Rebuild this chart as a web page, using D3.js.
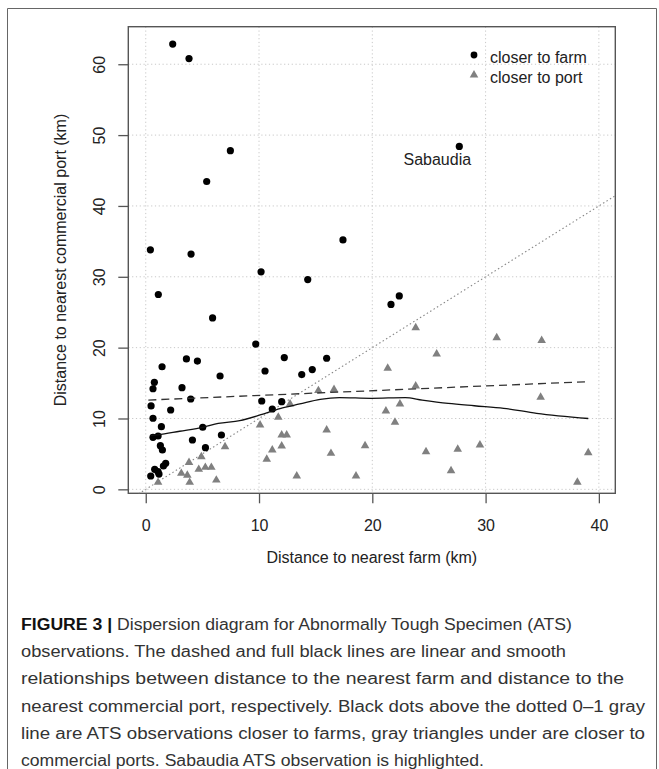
<!DOCTYPE html>
<html><head><meta charset="utf-8">
<script src="https://cdn.jsdelivr.net/npm/d3@7"></script>
<style>
html,body{margin:0;padding:0;background:#fff;}
svg{display:block;font-family:"Liberation Sans",Arial,sans-serif;}
</style></head>
<body>
<svg id="chart" width="659" height="769"></svg>
<script>
// ---- data ----
const xTicks = [0, 10, 20, 30, 40];
const yTicks = [0, 10, 20, 30, 40, 50, 60];
const farmX = [0.41,4.0,10.18,14.3,1.11,5.9,9.71,12.23,3.59,4.56,15.97,1.44,6.56,10.53,13.77,14.7,0.76,0.64,3.2,3.97,10.24,12.0,0.47,2.2,11.17,0.64,1.38,5.03,0.64,1.09,4.12,6.68,1.29,1.47,5.27,1.76,1.56,0.79,1.08,0.44,1.17,2.38,3.82,7.47,5.38,17.41,21.65,22.38,27.68];
const farmY = [33.8,33.2,30.7,29.6,27.5,24.2,20.5,18.6,18.4,18.1,18.5,17.3,16.0,16.7,16.2,16.9,15.1,14.2,14.35,12.75,12.47,12.37,11.77,11.2,11.34,10.03,8.84,8.76,7.34,7.53,6.96,7.67,6.16,5.55,5.88,3.67,3.29,2.82,2.49,1.88,2.16,62.85,60.8,47.8,43.45,35.2,26.1,27.3,48.4];
const portX = [1.09,3.82,4.91,3.14,3.67,3.88,4.68,5.26,5.79,6.23,7.0,15.24,16.62,12.74,11.7,10.09,12.0,12.44,15.97,12.0,11.17,10.68,16.35,13.33,23.83,25.68,21.36,23.83,22.44,21.2,22.0,19.36,24.74,27.54,18.56,26.95,30.98,34.95,34.86,29.5,39.06,38.1];
const portY = [0.98,3.8,4.6,2.25,2.0,0.98,2.82,3.1,3.1,1.3,6.0,13.93,14.1,12.05,10.17,9.08,7.67,7.67,8.38,6.12,5.55,4.24,5.08,1.88,22.8,19.1,17.1,14.6,12.05,11.06,9.46,6.16,5.31,5.65,1.88,2.63,21.4,21.0,13.0,6.26,5.17,0.99];
const linX = [0.23, 39.06];
const linY = [12.6, 15.2];
const smoothX = [0.4,1.1,3.0,5.06,6.4,8.3,10.1,11.85,13.6,15.4,17.1,19.9,22.9,24.4,26.7,29.0,31.6,34.5,39.06];
const smoothY = [7.6,7.7,8.2,8.76,9.3,9.7,10.5,11.4,12.05,12.7,12.94,12.85,12.94,12.6,12.14,11.8,11.44,10.73,10.0];
const sabaudia = {x: 27.68, y: 48.4, label: "Sabaudia"};
const legendLabels = ["closer to farm", "closer to port"];
const xTitle = "Distance to nearest farm (km)";
const yTitle = "Distance to nearest commercial port (km)";
const captionBold = "FIGURE 3 | ";
const captionLines = [
  "Dispersion diagram for Abnormally Tough Specimen (ATS)",
  "observations. The dashed and full black lines are linear and smooth",
  "relationships between distance to the nearest farm and distance to the",
  "nearest commercial port, respectively. Black dots above the dotted 0–1 gray",
  "line are ATS observations closer to farms, gray triangles under are closer to",
  "commercial ports. Sabaudia ATS observation is highlighted."
];
const captionEnds = [572, 566, 624, 645, 645, 484];

// ---- layout ----
const svg = d3.select("#chart");
const box = {l: 128.3, r: 615.3, t: 26.7, b: 493.3};
const x = d3.scaleLinear().domain([-1.54, 41.45]).range([box.l, box.r]);
const y = d3.scaleLinear().domain([-0.56, 65.3]).range([box.b, box.t]);
const axisCol = "#555";

// outer frame
svg.append("path").attr("d", "M7.5,790 V8.5 H656.5 V790")
  .attr("fill", "none").attr("stroke", "#666").attr("stroke-width", 1);

// clip
svg.append("clipPath").attr("id", "clip").append("rect")
  .attr("x", box.l).attr("y", box.t).attr("width", box.r - box.l).attr("height", box.b - box.t);

// grid
const grid = svg.append("g").attr("stroke", "#c8c8c8").attr("stroke-width", 1).attr("stroke-dasharray", "1.2,2.6");
grid.selectAll("line.v").data(xTicks).join("line")
  .attr("x1", d => x(d)).attr("x2", d => x(d)).attr("y1", box.t).attr("y2", box.b);
grid.selectAll("line.h").data(yTicks).join("line")
  .attr("y1", d => y(d)).attr("y2", d => y(d)).attr("x1", box.l).attr("x2", box.r);

// axes with d3
const gx = svg.append("g").attr("transform", `translate(0,${box.b})`)
  .call(d3.axisBottom(x).tickValues(xTicks).tickSize(10).tickPadding(8).tickFormat(d3.format("d")));
gx.select(".domain").remove();
gx.selectAll(".tick line").attr("stroke", axisCol).attr("stroke-width", 1.3);
gx.selectAll(".tick text").attr("font-size", 16).attr("fill", "#222")
  .attr("font-family", "Liberation Sans, Arial, sans-serif").attr("dy", null).attr("y", 38);

const gy = svg.append("g").attr("transform", `translate(${box.l},0)`)
  .call(d3.axisLeft(y).tickValues(yTicks).tickSize(10).tickFormat(d3.format("d")));
gy.select(".domain").remove();
gy.selectAll(".tick line").attr("stroke", axisCol).attr("stroke-width", 1.3);
gy.selectAll(".tick text").attr("font-size", 16).attr("fill", "#222")
  .attr("font-family", "Liberation Sans, Arial, sans-serif")
  .attr("x", null).attr("dy", null).attr("text-anchor", "middle")
  .attr("transform", "translate(-29,0) rotate(-90)").attr("y", 0).attr("dominant-baseline", "central");

// box
svg.append("rect").attr("x", box.l).attr("y", box.t).attr("width", box.r - box.l).attr("height", box.b - box.t)
  .attr("fill", "none").attr("stroke", axisCol).attr("stroke-width", 1.4);

// axis titles
svg.append("text").attr("x", (box.l + box.r) / 2).attr("y", 563).attr("text-anchor", "middle")
  .attr("font-size", 16).attr("fill", "#222").text(xTitle);
svg.append("text").attr("transform", `translate(60,${(box.t + box.b) / 2}) rotate(-90)`)
  .attr("text-anchor", "middle").attr("dominant-baseline", "central")
  .attr("font-size", 16).attr("fill", "#222").text(yTitle);

const plot = svg.append("g").attr("clip-path", "url(#clip)");

// 0-1 dotted line (y = x)
const dom = x.domain();
plot.append("line").attr("x1", x(dom[0])).attr("y1", y(dom[0])).attr("x2", x(dom[1])).attr("y2", y(dom[1]))
  .attr("stroke", "#888").attr("stroke-width", 1.1).attr("stroke-dasharray", "1.5,2.5");

// points
const triangle = d3.symbol().type(d3.symbolTriangle).size(32);
plot.selectAll("path.port").data(portX.map((v, i) => [v, portY[i]])).join("path")
  .attr("transform", d => `translate(${x(d[0])},${y(d[1])})`).attr("d", triangle).attr("fill", "#808080");
plot.selectAll("circle.farm").data(farmX.map((v, i) => [v, farmY[i]])).join("circle")
  .attr("cx", d => x(d[0])).attr("cy", d => y(d[1])).attr("r", 3.6).attr("fill", "#000");

// linear (dashed) and smooth (solid) lines
const line = d3.line().x(d => x(d[0])).y(d => y(d[1]));
plot.append("path").datum(linX.map((v, i) => [v, linY[i]])).attr("d", line)
  .attr("fill", "none").attr("stroke", "#333").attr("stroke-width", 1.3).attr("stroke-dasharray", "8,5");
plot.append("path").datum(smoothX.map((v, i) => [v, smoothY[i]])).attr("d", d3.line().curve(d3.curveMonotoneX).x(d => x(d[0])).y(d => y(d[1])))
  .attr("fill", "none").attr("stroke", "#111").attr("stroke-width", 1.3);

// Sabaudia label
svg.append("text").attr("x", x(sabaudia.x) - 22).attr("y", y(sabaudia.y) + 19).attr("text-anchor", "middle")
  .attr("font-size", 16).attr("fill", "#222").text(sabaudia.label);

// legend
const lg = svg.append("g");
lg.append("circle").attr("cx", 474).attr("cy", 55).attr("r", 3.4).attr("fill", "#000");
lg.append("path").attr("transform", "translate(474,75)").attr("d", triangle).attr("fill", "#808080");
lg.selectAll("text").data(legendLabels).join("text")
  .attr("x", 490).attr("y", (d, i) => 63 + i * 19.5).attr("font-size", 16).attr("fill", "#222").text(d => d);

// caption
const cap = svg.append("g").attr("font-family", "'Liberation Sans Narrow','Liberation Sans',Arial,sans-serif")
  .attr("font-size", 16).attr("fill", "#333");
captionLines.forEach((t, i) => {
  const tx = cap.append("text").attr("x", 21).attr("y", 630 + i * 27.2)
    .attr("textLength", captionEnds[i] - 21).attr("lengthAdjust", "spacingAndGlyphs");
  if (i === 0) tx.append("tspan").attr("font-weight", "bold").attr("fill", "#111").text(captionBold);
  tx.append("tspan").text(t);
});
</script>
</body></html>
